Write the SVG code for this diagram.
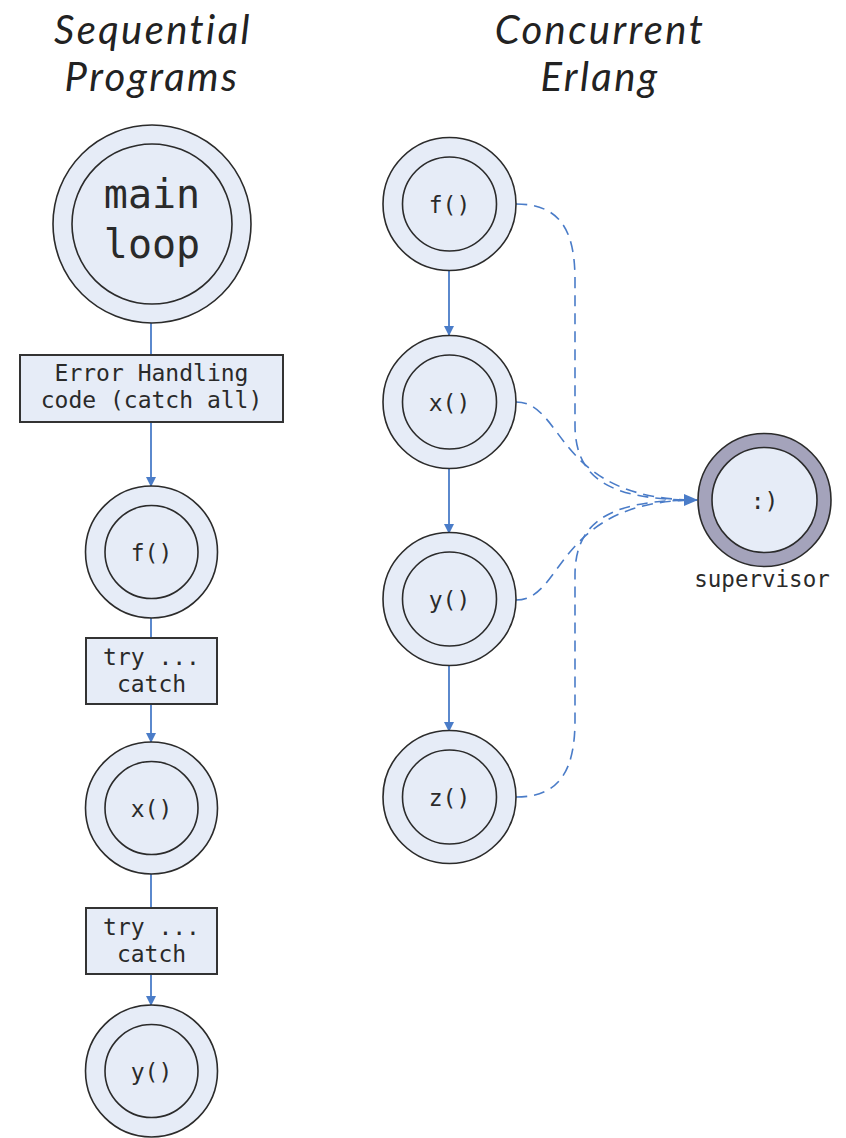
<svg xmlns="http://www.w3.org/2000/svg" width="846" height="1138" viewBox="0 0 846 1138">
  <style>
    .title { font-family: Lato, "Open Sans", sans-serif; font-style: italic; font-size: 40px; letter-spacing: 2.4px; fill: #222; text-anchor: middle; }
    .mono { font-family: "DejaVu Sans Mono", "Liberation Mono", monospace; fill: #2a2a2a; text-anchor: middle; }
    .outer { fill: #e6ecf7; stroke: #2b2b2b; stroke-width: 1.6; }
    .inner { fill: #e6ecf7; stroke: #2b2b2b; stroke-width: 1.6; }
    .box { fill: #e6ecf7; stroke: #333; stroke-width: 2; }
    .link { fill: none; stroke: #4a7cc8; stroke-width: 1.8; }
    .dash { fill: none; stroke: #4a7cc8; stroke-width: 1.6; stroke-dasharray: 11 7; }
  </style>
  <defs>
    <marker id="arrow" markerWidth="10" markerHeight="10" refX="9" refY="5" orient="auto" markerUnits="userSpaceOnUse">
      <path d="M0,0 L10,5 L0,10 z" fill="#4a7cc8"/>
    </marker>
    <marker id="arrowBig" markerWidth="14" markerHeight="12" refX="13" refY="6" orient="auto" markerUnits="userSpaceOnUse">
      <path d="M0,0 L14,6 L0,12 z" fill="#4a7cc8"/>
    </marker>
  </defs>

  <rect width="846" height="1138" fill="#ffffff"/>

  <!-- column headings -->
  <g id="title-sequential">
    <text class="title" x="153" y="44">Sequential</text>
    <text class="title" x="152" y="91">Programs</text>
  </g>
  <g id="title-concurrent">
    <text class="title" x="600" y="44">Concurrent</text>
    <text class="title" x="600" y="91">Erlang</text>
  </g>

  <!-- connectors -->
  <g id="connectors">
    <line class="link" x1="151" y1="323" x2="151" y2="355"/>
    <line class="link" x1="151" y1="422" x2="151" y2="486" marker-end="url(#arrow)"/>
    <line class="link" x1="151" y1="618" x2="151" y2="638"/>
    <line class="link" x1="151" y1="704" x2="151" y2="742" marker-end="url(#arrow)"/>
    <line class="link" x1="151" y1="874" x2="151" y2="908"/>
    <line class="link" x1="151" y1="974" x2="151" y2="1005" marker-end="url(#arrow)"/>

    <line class="link" x1="449" y1="270" x2="449" y2="335" marker-end="url(#arrow)"/>
    <line class="link" x1="449" y1="468" x2="449" y2="533" marker-end="url(#arrow)"/>
    <line class="link" x1="449" y1="666" x2="449" y2="731" marker-end="url(#arrow)"/>

    <path class="dash" d="M516,204 C560,204 575,230 575,280 L575,425 C575,485 620,500 697,500"/>
    <path class="dash" d="M516,402 C565,402 555,500 697,500"/>
    <path class="dash" d="M516,600 C565,600 555,500 697,500"/>
    <path class="dash" d="M516,797 C560,797 575,770 575,720 L575,575 C575,515 620,500 697,500"/>
    <line x1="680" y1="500" x2="697" y2="500" stroke="none" marker-end="url(#arrowBig)"/>
  </g>

  <!-- sequential column -->
  <g id="main-loop">
    <circle class="outer" cx="152" cy="224" r="99"/>
    <circle class="inner" cx="152" cy="224" r="80"/>
    <text class="mono" x="152" y="208" font-size="40">main</text>
    <text class="mono" x="152" y="258" font-size="40">loop</text>
  </g>
  <g id="error-handling">
    <rect class="box" x="20" y="355" width="263" height="67"/>
    <text class="mono" x="151.5" y="381" font-size="23">Error Handling</text>
    <text class="mono" x="151.5" y="408" font-size="23">code (catch all)</text>
  </g>
  <g id="seq-f">
    <circle class="outer" cx="151.5" cy="552" r="66"/>
    <circle class="inner" cx="151.5" cy="552" r="46.5"/>
    <text class="mono" x="151.5" y="561" font-size="23">f()</text>
  </g>
  <g id="try-catch-1">
    <rect class="box" x="86" y="638" width="131" height="66"/>
    <text class="mono" x="151.5" y="665" font-size="23">try ...</text>
    <text class="mono" x="151.5" y="692" font-size="23">catch</text>
  </g>
  <g id="seq-x">
    <circle class="outer" cx="151.5" cy="808" r="66"/>
    <circle class="inner" cx="151.5" cy="808" r="46.5"/>
    <text class="mono" x="151.5" y="817" font-size="23">x()</text>
  </g>
  <g id="try-catch-2">
    <rect class="box" x="86" y="908" width="131" height="66"/>
    <text class="mono" x="151.5" y="935" font-size="23">try ...</text>
    <text class="mono" x="151.5" y="962" font-size="23">catch</text>
  </g>
  <g id="seq-y">
    <circle class="outer" cx="151.5" cy="1071" r="66"/>
    <circle class="inner" cx="151.5" cy="1071" r="46.5"/>
    <text class="mono" x="151.5" y="1080" font-size="23">y()</text>
  </g>

  <!-- concurrent column -->
  <g id="proc-f">
    <circle class="outer" cx="449.5" cy="204" r="66.5"/>
    <circle class="inner" cx="449.5" cy="204" r="47"/>
    <text class="mono" x="449.5" y="213" font-size="23">f()</text>
  </g>
  <g id="proc-x">
    <circle class="outer" cx="449.5" cy="402" r="66.5"/>
    <circle class="inner" cx="449.5" cy="402" r="47"/>
    <text class="mono" x="449.5" y="411" font-size="23">x()</text>
  </g>
  <g id="proc-y">
    <circle class="outer" cx="449.5" cy="599" r="66.5"/>
    <circle class="inner" cx="449.5" cy="599" r="47"/>
    <text class="mono" x="449.5" y="608" font-size="23">y()</text>
  </g>
  <g id="proc-z">
    <circle class="outer" cx="449.5" cy="797" r="66.5"/>
    <circle class="inner" cx="449.5" cy="797" r="47"/>
    <text class="mono" x="449.5" y="806" font-size="23">z()</text>
  </g>
  <g id="supervisor">
    <circle cx="764.5" cy="500" r="66.5" fill="#a4a3bb" stroke="#2b2b2b" stroke-width="1.6"/>
    <circle cx="764.5" cy="500" r="52.5" fill="#e6ecf7" stroke="#2b2b2b" stroke-width="1.6"/>
    <text class="mono" x="764.5" y="509" font-size="23">:)</text>
    <text class="mono" x="762" y="587" font-size="22.5">supervisor</text>
  </g>
</svg>
